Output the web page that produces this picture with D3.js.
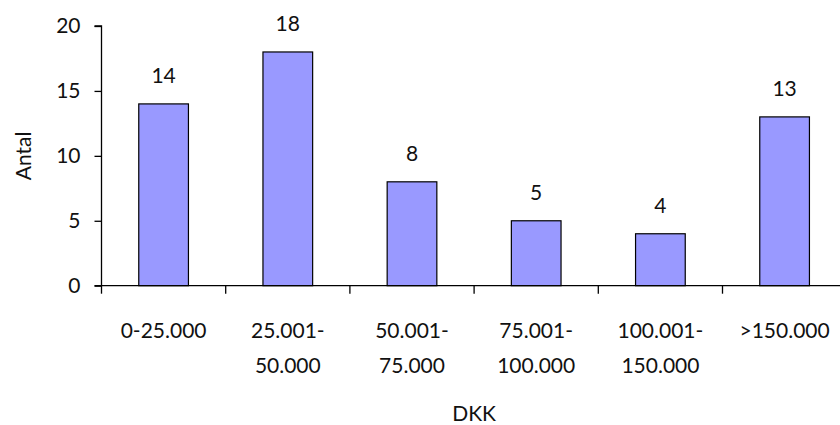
<!DOCTYPE html>
<html>
<head>
<meta charset="utf-8">
<script src="https://cdn.jsdelivr.net/npm/d3@7"></script>
<style>
  html, body { margin: 0; padding: 0; background: #fff; }
  svg { display: block; }
  text { font-family: Lato, "Open Sans", sans-serif; fill: #111; }
</style>
</head>
<body>
<svg id="chart" width="840" height="425"></svg>
<script>
const categories = [["0-25.000"], ["25.001-", "50.000"], ["50.001-", "75.000"], ["75.001-", "100.000"], ["100.001-", "150.000"], [">150.000"]];
const values = [14, 18, 8, 5, 4, 13];
const yTicks = [0, 5, 10, 15, 20];
const yTitle = "Antal";
const xTitle = "DKK";

const svg = d3.select("#chart");
const fs = 21;
const x0 = 101.5, x1 = 846.7, yTop = 26, yBot = 285.7;

const keys = categories.map((c, i) => i);
const x = d3.scaleBand().domain(keys).range([x0, x1]).paddingInner(0.6).paddingOuter(0.3);
const y = d3.scaleLinear().domain([0, 20]).range([yBot, yTop]);

// bars
svg.append("g").selectAll("rect").data(values).join("rect")
  .attr("x", (d, i) => x(i))
  .attr("y", d => y(d))
  .attr("width", x.bandwidth())
  .attr("height", d => y(0) - y(d))
  .attr("fill", "#9999FF")
  .attr("stroke", "#000")
  .attr("stroke-width", 1.2);

// value labels
svg.append("g").selectAll("text").data(values).join("text")
  .attr("x", (d, i) => x(i) + x.bandwidth() / 2)
  .attr("y", d => y(d) - 20.5)
  .attr("text-anchor", "middle")
  .style("font-size", fs + "px")
  .text(d => d);

// y axis
const yAxis = d3.axisLeft(y).tickValues(yTicks).tickSize(7).tickPadding(14);
const gy = svg.append("g").attr("transform", `translate(${x0},0)`).call(yAxis);
gy.select(".domain").attr("stroke", "#000").attr("stroke-width", 1.3).attr("d", `M-7,${yTop}H0V${yBot}H-7`);
gy.selectAll(".tick line").attr("stroke", "#000").attr("stroke-width", 1.3);
gy.selectAll(".tick text").style("font-size", fs + "px").style("font-family", "Lato, sans-serif").attr("fill", "#111");

// x axis
const step = x.step();
const boundaries = d3.range(0, categories.length + 1).map(i => x0 + i * step);
svg.append("line").attr("x1", x0).attr("x2", x1).attr("y1", yBot).attr("y2", yBot)
  .attr("stroke", "#000").attr("stroke-width", 1.3);
svg.append("g").selectAll("line").data(boundaries).join("line")
  .attr("x1", d => d).attr("x2", d => d)
  .attr("y1", yBot).attr("y2", yBot + 8)
  .attr("stroke", "#000").attr("stroke-width", 1.3);

// x labels
const xl = svg.append("g").selectAll("text").data(categories).join("text")
  .attr("text-anchor", "middle")
  .style("font-size", fs + "px")
  .attr("transform", (d, i) => `translate(${x(i) + x.bandwidth() / 2},0)`);
xl.selectAll("tspan").data(d => d).join("tspan")
  .attr("x", 0)
  .attr("y", (d, j) => 337.5 + j * 35)
  .text(d => d);

// titles
svg.append("text")
  .attr("transform", `translate(31,${(yTop + yBot) / 2}) rotate(-90)`)
  .attr("text-anchor", "middle")
  .style("font-size", fs + "px")
  .text(yTitle);

svg.append("text")
  .attr("x", (x0 + x1) / 2)
  .attr("y", 421)
  .attr("text-anchor", "middle")
  .style("font-size", fs + "px")
  .text(xTitle);
</script>
</body>
</html>
